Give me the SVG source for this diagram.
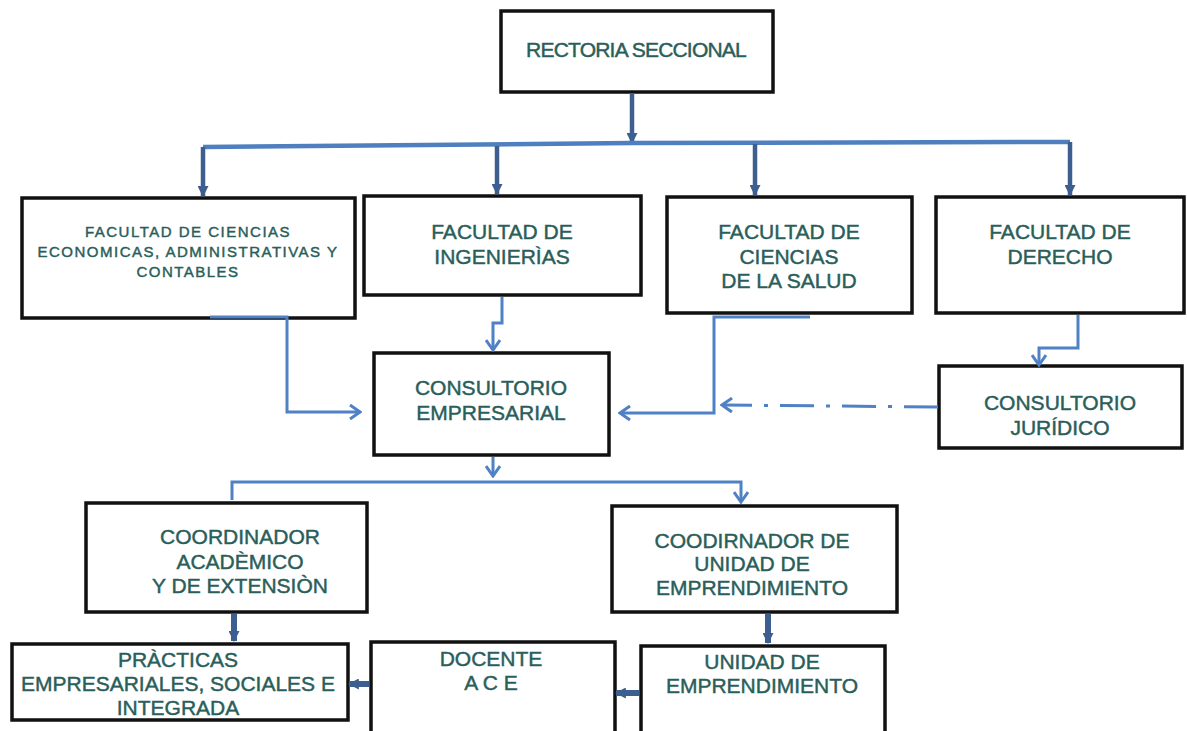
<svg xmlns="http://www.w3.org/2000/svg" width="1187" height="731" viewBox="0 0 1187 731">
<defs>
<style>
.box{fill:#fff;stroke:#111;stroke-width:3.5}
.t{font-family:"Liberation Sans",Arial,sans-serif;font-size:21px;fill:#2A5E5A;stroke:#2A5E5A;stroke-width:0.45;text-anchor:middle}
.ts{font-family:"Liberation Sans",Arial,sans-serif;font-size:15px;fill:#2A5E5A;stroke:#2A5E5A;stroke-width:0.45;text-anchor:middle;letter-spacing:1.5px}
.main{fill:none;stroke:#4F7FBF;stroke-width:4.5}
.drop{fill:none;stroke:#3D5F90;stroke-width:4.5}
.thin{fill:none;stroke:#4F81C4;stroke-width:3}
.thick{fill:none;stroke:#3D5F90;stroke-width:6}
</style>
<marker id="fa" viewBox="0 0 10 10" refX="9" refY="5" markerWidth="11" markerHeight="11" markerUnits="userSpaceOnUse" orient="auto">
<path d="M0,0 L10,5 L0,10 Z" fill="#3D5F90"/>
</marker>
<marker id="oa" viewBox="0 0 14 16" refX="12" refY="8" markerWidth="14" markerHeight="16" markerUnits="userSpaceOnUse" orient="auto">
<path d="M2,1 L12,8 L2,15" fill="none" stroke="#4F81C4" stroke-width="3"/>
</marker>
</defs>

<g id="rectoria">
<rect class="box" x="501" y="11" width="272" height="81"/>
<text class="t" x="636" y="57" letter-spacing="-0.8">RECTORIA SECCIONAL</text>
</g>
<g id="fac-economicas">
<rect class="box" x="22" y="198" width="333" height="120"/>
<text class="ts" x="188" y="237">FACULTAD DE CIENCIAS</text>
<text class="ts" x="188" y="257">ECONOMICAS, ADMINISTRATIVAS Y</text>
<text class="ts" x="188" y="277">CONTABLES</text>
</g>
<g id="fac-ingenierias">
<rect class="box" x="364" y="196" width="277" height="99"/>
<text class="t" x="502" y="239">FACULTAD DE</text>
<text class="t" x="502" y="264">INGENIERÌAS</text>
</g>
<g id="fac-salud">
<rect class="box" x="667" y="197" width="245" height="116"/>
<text class="t" x="789" y="239">FACULTAD DE</text>
<text class="t" x="789" y="264">CIENCIAS</text>
<text class="t" x="789" y="288">DE LA SALUD</text>
</g>
<g id="fac-derecho">
<rect class="box" x="936" y="197" width="248" height="116"/>
<text class="t" x="1060" y="239">FACULTAD DE</text>
<text class="t" x="1060" y="264">DERECHO</text>
</g>
<g id="consultorio-empresarial">
<rect class="box" x="374" y="353" width="235" height="102"/>
<text class="t" x="491" y="395">CONSULTORIO</text>
<text class="t" x="491" y="420">EMPRESARIAL</text>
</g>
<g id="consultorio-juridico">
<rect class="box" x="939" y="366" width="243" height="82"/>
<text class="t" x="1060" y="410">CONSULTORIO</text>
<text class="t" x="1060" y="435">JURÍDICO</text>
</g>
<g id="coordinador-academico">
<rect class="box" x="86" y="503" width="281" height="109"/>
<text class="t" x="240" y="544">COORDINADOR</text>
<text class="t" x="240" y="569">ACADÈMICO</text>
<text class="t" x="240" y="593">Y DE EXTENSIÒN</text>
</g>
<g id="coordinador-emprendimiento">
<rect class="box" x="612" y="506" width="285" height="106"/>
<text class="t" x="752" y="548">COODIRNADOR DE</text>
<text class="t" x="752" y="571">UNIDAD DE</text>
<text class="t" x="752" y="595">EMPRENDIMIENTO</text>
</g>
<g id="practicas">
<rect class="box" x="12" y="644" width="336" height="76"/>
<text class="t" x="178" y="667">PRÀCTICAS</text>
<text class="t" x="178" y="691">EMPRESARIALES, SOCIALES E</text>
<text class="t" x="178" y="715">INTEGRADA</text>
</g>
<g id="docente">
<rect class="box" x="371" y="642" width="244" height="95"/>
<text class="t" x="491" y="666">DOCENTE</text>
<text class="t" x="491" y="690">A C E</text>
</g>
<g id="unidad-emprendimiento">
<rect class="box" x="641" y="646" width="244" height="91"/>
<text class="t" x="762" y="669">UNIDAD DE</text>
<text class="t" x="762" y="693">EMPRENDIMIENTO</text>
</g>

<g id="connectors">
<line class="drop" x1="632" y1="93" x2="632" y2="143" marker-end="url(#fa)"/>
<polyline class="main" points="203,147 632,143 1070,142"/>
<line class="drop" x1="203" y1="147" x2="203" y2="196" marker-end="url(#fa)"/>
<line class="drop" x1="497" y1="146" x2="497" y2="194" marker-end="url(#fa)"/>
<line class="drop" x1="755" y1="144" x2="755" y2="195" marker-end="url(#fa)"/>
<line class="drop" x1="1070" y1="142" x2="1070" y2="195" marker-end="url(#fa)"/>

<polyline class="thin" points="210,317 287,317 287,412 360,412" marker-end="url(#oa)"/>
<polyline class="thin" points="502,297 502,323 493,323 493,350" marker-end="url(#oa)"/>
<polyline class="thin" points="810,317 714,317 714,413 620,413" marker-end="url(#oa)"/>
<polyline class="thin" points="1078,315 1078,348 1039,348 1039,365" marker-end="url(#oa)"/>
<line class="thin" x1="938" y1="407" x2="722" y2="405" stroke-dasharray="34,12,4,12" marker-end="url(#oa)"/>

<line class="thin" x1="493" y1="457" x2="493" y2="476" marker-end="url(#oa)"/>
<polyline class="thin" points="232,500 232,482 741,482 741,502" marker-end="url(#oa)"/>

<line class="thick" x1="234" y1="614" x2="234" y2="641" marker-end="url(#fa)"/>
<line class="thick" x1="768" y1="614" x2="768" y2="643" marker-end="url(#fa)"/>
<line class="thick" x1="369" y1="684" x2="349" y2="684" marker-end="url(#fa)"/>
<line class="thick" x1="639" y1="693" x2="616" y2="693" marker-end="url(#fa)"/>
</g>
</svg>
